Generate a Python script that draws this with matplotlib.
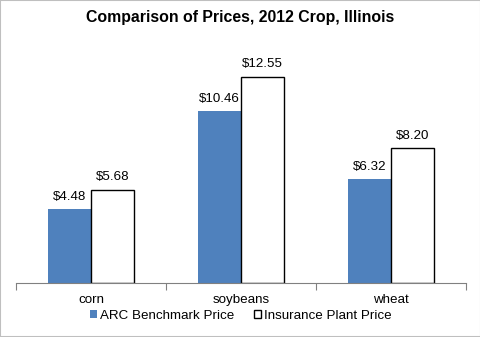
import matplotlib.pyplot as plt
import numpy as np

plt.rcParams['font.family'] = ['Liberation Sans', 'DejaVu Sans']

categories = ['corn', 'soybeans', 'wheat']
arc_prices = [4.48, 10.46, 6.32]
insurance_prices = [5.68, 12.55, 8.20]
series_names = ['ARC Benchmark Price', 'Insurance Plant Price']

fig = plt.figure(figsize=(4.81, 3.37), dpi=100)
ax = fig.add_axes([0.0333, 0.160, 0.936, 0.683])

x = np.arange(len(categories))
w = 0.287
b1 = ax.bar(x - w / 2, arc_prices, w, color='#4F81BD', label=series_names[0])
b2 = ax.bar(x + w / 2, insurance_prices, w, color='white', edgecolor='black',
            linewidth=1.0, label=series_names[1])

for bars, vals in ((b1, arc_prices), (b2, insurance_prices)):
    for bar, v in zip(bars, vals):
        ax.annotate(f'${v:.2f}', (bar.get_x() + bar.get_width() / 2, v),
                    xytext=(0, 4.5), textcoords='offset points',
                    ha='center', va='bottom', fontsize=9.6)

ax.set_xlim(-0.5, len(categories) - 0.5)
ax.set_ylim(0, 14)
ax.set_yticks([])
ax.set_xticks(np.arange(len(categories) + 1) - 0.5)
ax.set_xticklabels([])
ax.set_xticks(x, minor=True)
ax.set_xticklabels(categories, minor=True, fontsize=9.6)
ax.tick_params(axis='x', which='major', length=5, color='#808080')
ax.tick_params(axis='x', which='minor', length=0, pad=8)
for s in ['top', 'left', 'right']:
    ax.spines[s].set_visible(False)
ax.spines['bottom'].set_color('#808080')

fig.text(0.5, 0.947, 'Comparison of Prices, 2012 Crop, Illinois', fontsize=11.4,
         fontweight='bold', ha='center', va='center')

fig.legend(loc='center', bbox_to_anchor=(0.5, 0.062), ncol=2, frameon=False,
           fontsize=9.6, handlelength=0.55, handleheight=0.55, handletextpad=0.2,
           columnspacing=1.5)

fig.patches.append(plt.Rectangle((0, 0), 1, 1, transform=fig.transFigure,
                                 fill=False, edgecolor='#BFBFBF', linewidth=1.5))

fig.savefig('out.png', dpi=100)
